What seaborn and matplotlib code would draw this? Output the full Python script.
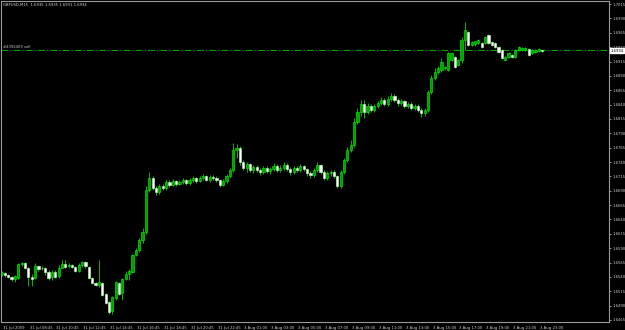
import matplotlib
matplotlib.use("Agg")
import matplotlib.pyplot as plt
import matplotlib.transforms as mtransforms
import seaborn as sns
import numpy as np

# ---------------- data (GBPUSD, M15) ----------------
opens = [1.6545,1.6547,1.6543,1.6540,1.6536,1.6538,1.6562,1.6564,1.6556,1.6540,
         1.6538,1.6559,1.6556,1.6556,1.6549,1.6540,1.6549,1.6542,1.6556,1.6562,
         1.6559,1.6561,1.6557,1.6550,1.6561,1.6566,1.6557,1.6538,1.6529,1.6526,
         1.6529,1.6510,1.6496,1.6481,1.6503,1.6529,1.6512,1.6536,1.6545,1.6549,
         1.6578,1.6587,1.6604,1.6618,1.6691,1.6712,1.6695,1.6688,1.6698,1.6695,
         1.6705,1.6700,1.6707,1.6702,1.6705,1.6709,1.6704,1.6709,1.6712,1.6707,
         1.6712,1.6716,1.6709,1.6714,1.6712,1.6709,1.6700,1.6707,1.6716,1.6726,
         1.6761,1.6765,1.6740,1.6730,1.6737,1.6726,1.6731,1.6726,1.6723,1.6730,
         1.6724,1.6728,1.6733,1.6726,1.6730,1.6735,1.6728,1.6723,1.6730,1.6726,
         1.6733,1.6728,1.6721,1.6717,1.6726,1.6735,1.6723,1.6712,1.6721,1.6723,
         1.6716,1.6698,1.6723,1.6744,1.6761,1.6770,1.6810,1.6827,1.6841,1.6827,
         1.6838,1.6831,1.6838,1.6843,1.6848,1.6841,1.6850,1.6855,1.6848,1.6843,
         1.6846,1.6838,1.6841,1.6834,1.6838,1.6831,1.6825,1.6831,1.6862,1.6886,
         1.6897,1.6900,1.6904,1.6900,1.6918,1.6923,1.6909,1.6918,1.6952,1.6966,
         1.6944,1.6946,1.6947,1.6947,1.6947,1.6961,1.6949,1.6947,1.6940,1.6935,
         1.6918,1.6923,1.6926,1.6923,1.6935,1.6935,1.6935,1.6937,1.6930,1.6932,
         1.6933,1.6935]
highs = [1.6550,1.6549,1.6545,1.6542,1.6543,1.6564,1.6566,1.6566,1.6557,1.6545,
         1.6564,1.6561,1.6559,1.6557,1.6552,1.6552,1.6552,1.6561,1.6569,1.6569,
         1.6564,1.6562,1.6559,1.6564,1.6568,1.6568,1.6559,1.6540,1.6531,1.6569,
         1.6531,1.6512,1.6498,1.6507,1.6533,1.6531,1.6538,1.6550,1.6554,1.6580,
         1.6590,1.6608,1.6625,1.6698,1.6723,1.6716,1.6698,1.6702,1.6702,1.6709,
         1.6709,1.6711,1.6709,1.6709,1.6712,1.6711,1.6712,1.6716,1.6714,1.6716,
         1.6719,1.6717,1.6717,1.6717,1.6716,1.6711,1.6711,1.6719,1.6730,1.6773,
         1.6771,1.6768,1.6744,1.6740,1.6738,1.6735,1.6735,1.6730,1.6733,1.6733,
         1.6731,1.6738,1.6737,1.6735,1.6740,1.6738,1.6731,1.6733,1.6733,1.6737,
         1.6735,1.6730,1.6724,1.6730,1.6740,1.6737,1.6726,1.6724,1.6726,1.6726,
         1.6717,1.6726,1.6747,1.6766,1.6778,1.6817,1.6834,1.6848,1.6848,1.6843,
         1.6841,1.6841,1.6846,1.6853,1.6852,1.6855,1.6860,1.6859,1.6852,1.6850,
         1.6848,1.6845,1.6845,1.6841,1.6841,1.6834,1.6834,1.6865,1.6892,1.6904,
         1.6907,1.6921,1.6907,1.6932,1.6932,1.6925,1.6919,1.6958,1.6984,1.6968,
         1.6951,1.6951,1.6954,1.6949,1.6959,1.6963,1.6951,1.6949,1.6942,1.6937,
         1.6925,1.6932,1.6928,1.6937,1.6942,1.6940,1.6940,1.6939,1.6937,1.6937,
         1.6939,1.6935]
lows = [1.6542,1.6540,1.6538,1.6533,1.6531,1.6536,1.6559,1.6554,1.6524,1.6524,
        1.6536,1.6550,1.6552,1.6543,1.6535,1.6535,1.6538,1.6538,1.6555,1.6556,
        1.6556,1.6556,1.6549,1.6549,1.6557,1.6556,1.6536,1.6528,1.6524,1.6522,
        1.6507,1.6493,1.6475,1.6475,1.6500,1.6509,1.6500,1.6535,1.6535,1.6547,
        1.6576,1.6583,1.6599,1.6615,1.6688,1.6691,1.6683,1.6684,1.6691,1.6691,
        1.6697,1.6698,1.6698,1.6700,1.6702,1.6700,1.6700,1.6705,1.6704,1.6705,
        1.6709,1.6707,1.6705,1.6709,1.6705,1.6697,1.6698,1.6704,1.6712,1.6723,
        1.6747,1.6735,1.6726,1.6723,1.6723,1.6721,1.6723,1.6717,1.6719,1.6721,
        1.6719,1.6724,1.6723,1.6723,1.6726,1.6724,1.6717,1.6719,1.6723,1.6723,
        1.6724,1.6716,1.6712,1.6714,1.6723,1.6719,1.6709,1.6709,1.6716,1.6712,
        1.6695,1.6695,1.6719,1.6740,1.6757,1.6766,1.6806,1.6820,1.6817,1.6824,
        1.6827,1.6827,1.6834,1.6839,1.6838,1.6838,1.6846,1.6845,1.6838,1.6839,
        1.6834,1.6834,1.6831,1.6831,1.6827,1.6818,1.6820,1.6827,1.6859,1.6883,
        1.6893,1.6897,1.6900,1.6899,1.6916,1.6904,1.6907,1.6912,1.6935,1.6942,
        1.6942,1.6942,1.6946,1.6939,1.6946,1.6946,1.6942,1.6939,1.6930,1.6919,
        1.6916,1.6921,1.6921,1.6921,1.6933,1.6933,1.6933,1.6925,1.6928,1.6930,
        1.6932,1.6931]
closes = [1.6547,1.6543,1.6540,1.6536,1.6542,1.6562,1.6564,1.6556,1.6540,1.6536,
          1.6559,1.6554,1.6555,1.6549,1.6538,1.6549,1.6540,1.6556,1.6562,1.6557,
          1.6561,1.6557,1.6550,1.6561,1.6566,1.6559,1.6538,1.6529,1.6526,1.6531,
          1.6509,1.6495,1.6479,1.6505,1.6531,1.6510,1.6536,1.6545,1.6550,1.6578,
          1.6587,1.6604,1.6618,1.6691,1.6712,1.6695,1.6688,1.6698,1.6695,1.6705,
          1.6700,1.6707,1.6702,1.6705,1.6709,1.6704,1.6709,1.6712,1.6707,1.6712,
          1.6716,1.6709,1.6714,1.6712,1.6709,1.6700,1.6707,1.6716,1.6726,1.6761,
          1.6765,1.6740,1.6730,1.6737,1.6726,1.6731,1.6726,1.6723,1.6730,1.6724,
          1.6728,1.6733,1.6726,1.6730,1.6735,1.6728,1.6723,1.6730,1.6726,1.6733,
          1.6728,1.6721,1.6717,1.6726,1.6735,1.6723,1.6712,1.6721,1.6723,1.6716,
          1.6698,1.6723,1.6744,1.6761,1.6770,1.6810,1.6827,1.6841,1.6827,1.6838,
          1.6831,1.6838,1.6843,1.6848,1.6841,1.6850,1.6855,1.6848,1.6843,1.6846,
          1.6838,1.6841,1.6834,1.6838,1.6831,1.6825,1.6831,1.6862,1.6886,1.6897,
          1.6904,1.6914,1.6905,1.6930,1.6930,1.6905,1.6918,1.6952,1.6970,1.6944,
          1.6949,1.6950,1.6952,1.6940,1.6958,1.6947,1.6944,1.6940,1.6932,1.6921,
          1.6923,1.6930,1.6923,1.6935,1.6940,1.6939,1.6938,1.6926,1.6935,1.6935,
          1.6937,1.6934]

price_ticks = [1.7015, 1.6990, 1.6965, 1.6940, 1.6915, 1.6890, 1.6865, 1.6840,
               1.6815, 1.6790, 1.6765, 1.6740, 1.6715, 1.6690, 1.6665, 1.6640,
               1.6615, 1.6590, 1.6565, 1.6540, 1.6515, 1.6490, 1.6465]
time_labels = ["31 Jul 2009", "31 Jul 08:45", "31 Jul 10:45", "31 Jul 12:45",
               "31 Jul 14:45", "31 Jul 16:45", "31 Jul 18:45", "31 Jul 20:45",
               "31 Jul 22:45", "3 Aug 01:00", "3 Aug 03:00", "3 Aug 05:00",
               "3 Aug 07:00", "3 Aug 09:00", "3 Aug 11:00", "3 Aug 13:00",
               "3 Aug 15:00", "3 Aug 17:00", "3 Aug 19:00", "3 Aug 21:00",
               "3 Aug 23:00"]
bars_per_label = 8
order_price = 1.6935
order_label = "#4392409 sell"
title = "GBPUSD,M15  1.6935 1.6935 1.6931 1.6934"
last_price = "1.6934"

# ---------------- style ----------------
sns.set_style("dark", {"axes.facecolor": "black", "figure.facecolor": "black"})
plt.rcParams["font.family"] = ["DejaVu Sans"]

W, H = 625, 330
fig = plt.figure(figsize=(W / 100, H / 100), dpi=100)
fig.patch.set_facecolor("black")
ax = fig.add_axes([1 / W, 8 / H, 608 / W, 321 / H])
ax.set_facecolor("black")

n = len(closes)
x = np.arange(n)
o = np.array(opens); c = np.array(closes)
hi = np.array(highs); lo = np.array(lows)

lime = "#00ff00"
ax.vlines(x, lo, hi, color=lime, linewidth=0.5, zorder=2)
bull = c >= o
bottom = np.minimum(o, c)
height = np.maximum(np.abs(c - o), 0.00006)
ax.bar(x[bull], height[bull], bottom=bottom[bull], width=0.65,
       color="#00a000", edgecolor=lime, linewidth=0.4, zorder=3)
ax.bar(x[~bull], height[~bull], bottom=bottom[~bull], width=0.65,
       color="white", edgecolor="#c8ffc8", linewidth=0.4, zorder=3)

# order line
ax.axhline(order_price, color="#00a000", linewidth=0.8,
           linestyle=(0, (6, 2, 1, 2)), zorder=1)

ax.set_xlim(-0.15, 180.9)
ax.set_ylim(1.64615, 1.70204)

# axes look
for side in ["left", "top", "right", "bottom"]:
    ax.spines[side].set_color("#9a9a9a")
    ax.spines[side].set_linewidth(0.8)
    ax.spines[side].set_visible(True)
ax.grid(False)

ax.yaxis.tick_right()
ax.set_yticks(price_ticks)
ax.set_yticklabels([f"{p:.4f}" for p in price_ticks])
ax.tick_params(axis="y", colors="#d0d0d0", labelsize=2.7, length=1.5,
               width=0.5, pad=1.0, direction="out", right=True, left=False)

xt = np.arange(0, bars_per_label * len(time_labels), bars_per_label)
ax.set_xticks(xt)
ax.set_xticklabels(time_labels, ha="left")
ax.tick_params(axis="x", colors="#d0d0d0", labelsize=2.7, length=2.0,
               width=0.5, pad=0.6, direction="out")
for lbl in ax.get_xticklabels():
    lbl.set_transform(lbl.get_transform() +
                      mtransforms.ScaledTranslation(1.2 / 100, 0, fig.dpi_scale_trans))

# price tag on right axis
trans = mtransforms.blended_transform_factory(ax.transAxes, ax.transData)
ax.text(1.003, 1.6934, last_price, transform=trans, fontsize=2.7,
        color="black", va="center", ha="left",
        bbox=dict(boxstyle="square,pad=0.12", fc="white", ec="white"), zorder=5,
        clip_on=False)

# order label
ax.text(0.004, order_price + 0.00012, order_label, transform=trans, fontsize=2.7,
        color="#c8c8c8", va="bottom", ha="left")

# title text
fig.text(3 / W, 1 - 5 / H, title, fontsize=2.7, color="#d8d8d8",
         va="center", ha="left")

fig.savefig("out.png", dpi=100, facecolor="black")
